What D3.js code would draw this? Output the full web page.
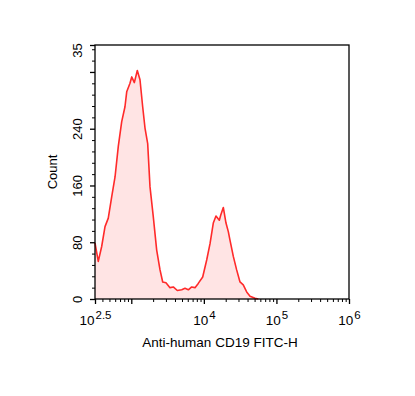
<!DOCTYPE html>
<html>
<head>
<meta charset="utf-8">
<script src="https://cdn.jsdelivr.net/npm/d3@7"></script>
<style>
  body { margin: 0; background: #fff; }
  text { font-family: "Liberation Sans", Arial, sans-serif; }
</style>
</head>
<body>
<div id="chart"></div>
<script>
// histogram: log10 of FITC-H and count
var logFitc = [2.5, 2.545, 2.592, 2.638, 2.683, 2.73, 2.776, 2.821, 2.868, 2.913, 2.937, 2.982, 3.006, 3.042,
  3.083, 3.12, 3.157, 3.189, 3.226, 3.258, 3.303, 3.35, 3.396, 3.433, 3.478, 3.533, 3.579, 3.634, 3.695,
  3.74, 3.786, 3.832, 3.878, 3.923, 3.984, 4.039, 4.085, 4.13, 4.167, 4.213, 4.232, 4.268, 4.305, 4.337,
  4.36, 4.406, 4.452, 4.498, 4.543, 4.59, 4.636, 4.705, 4.75];
var counts = [79, 53, 74, 102, 114, 144, 172, 215, 250, 271, 292, 304, 313, 305,
  322, 309, 271, 241, 219, 158, 116, 69, 41, 24, 23, 16, 17, 12, 13,
  15, 13, 17, 16, 22, 31, 55, 78, 107, 117, 111, 118, 129, 107, 95,
  83, 60, 41, 24, 20, 10, 4, 1, 0];

var xMajor = [Math.pow(10, 2.5), 1e3, 1e4, 1e5, 1e6];
var xMajorExp = ["2.5", "", "4", "5", "6"];
var yMajor = [0, 80, 160, 240, 320, 358];
var yMajorLabels = ["0", "80", "160", "240", "", "35"];

var svgWidth = 415, svgHeight = 396;
var plot = {left: 95, right: 349, top: 45, bottom: 299};

var svg = d3.select("#chart").append("svg")
    .attr("width", svgWidth)
    .attr("height", svgHeight);

var x = d3.scaleLog().domain([Math.pow(10, 2.5), 1e6]).range([plot.left, plot.right]);
var y = d3.scaleLinear().domain([0, 358]).range([plot.bottom, plot.top]);

var pts = logFitc.map((e, i) => ({v: Math.pow(10, e), c: counts[i]}));

// filled histogram
svg.append("path")
    .datum(pts)
    .attr("fill", "#ffe4e4")
    .attr("d", d3.area().x(d => x(d.v)).y0(y(0)).y1(d => y(d.c)));

svg.append("path")
    .datum(pts)
    .attr("fill", "none")
    .attr("stroke", "#ff2a2a")
    .attr("stroke-width", 1.6)
    .attr("stroke-linejoin", "round")
    .attr("d", d3.line().x(d => x(d.v)).y(d => y(d.c)));

// minor ticks
var xMinor = [];
[100, 1e3, 1e4, 1e5].forEach(function(dec) {
    for (var k = 2; k <= 9; k++) {
        if (dec * k > Math.pow(10, 2.5)) xMinor.push(dec * k);
    }
});
var yMinor = d3.range(0, 358, 16).filter(v => v % 80 != 0);

svg.append("g")
    .attr("transform", `translate(0, ${plot.bottom})`)
    .call(d3.axisBottom(x).tickValues(xMinor).tickSize(3).tickSizeOuter(0).tickFormat(""))
    .call(g => g.select(".domain").remove());

svg.append("g")
    .attr("transform", `translate(${plot.left}, 0)`)
    .call(d3.axisLeft(y).tickValues(yMinor).tickSize(3).tickSizeOuter(0).tickFormat(""))
    .call(g => g.select(".domain").remove());

// major ticks
var xAxisG = svg.append("g")
    .attr("transform", `translate(0, ${plot.bottom})`)
    .call(d3.axisBottom(x).tickValues(xMajor).tickSize(5).tickSizeOuter(0).tickFormat(""));
xAxisG.select(".domain").remove();
xAxisG.selectAll(".tick line").attr("stroke-width", 1.3);

xAxisG.selectAll(".tick").each(function(d, i) {
    if (!xMajorExp[i]) return;
    var t = d3.select(this).append("text")
        .attr("fill", "#000")
        .attr("y", 26)
        .attr("text-anchor", "middle")
        .style("font-size", "13.5px");
    t.append("tspan").text("10");
    t.append("tspan").attr("dy", -6).attr("dx", 1).style("font-size", "11.5px").text(xMajorExp[i]);
});

var yAxisG = svg.append("g")
    .attr("transform", `translate(${plot.left}, 0)`)
    .call(d3.axisLeft(y).tickValues(yMajor).tickSize(5).tickSizeOuter(0).tickFormat(""));
yAxisG.select(".domain").remove();
yAxisG.selectAll(".tick line").attr("stroke-width", 1.3);

yAxisG.selectAll(".tick").append("text")
    .attr("fill", "#000")
    .attr("transform", (d, i) => i == yMajor.length - 1 ? "translate(-13, 5) rotate(-90)" : "translate(-13, 0) rotate(-90)")
    .attr("text-anchor", "middle")
    .style("font-size", "13px")
    .text((d, i) => yMajorLabels[i]);

// frame
svg.append("rect")
    .attr("x", plot.left)
    .attr("y", plot.top)
    .attr("width", plot.right - plot.left)
    .attr("height", plot.bottom - plot.top)
    .attr("fill", "none")
    .attr("stroke", "#000")
    .attr("stroke-width", 1.3);

// axis titles
svg.append("text")
    .attr("x", 220)
    .attr("y", 347)
    .attr("text-anchor", "middle")
    .style("font-size", "13.5px")
    .text("Anti-human CD19 FITC-H");

svg.append("text")
    .attr("transform", `translate(57, ${(plot.top + plot.bottom) / 2}) rotate(-90)`)
    .attr("text-anchor", "middle")
    .style("font-size", "13px")
    .text("Count");
</script>
</body>
</html>
